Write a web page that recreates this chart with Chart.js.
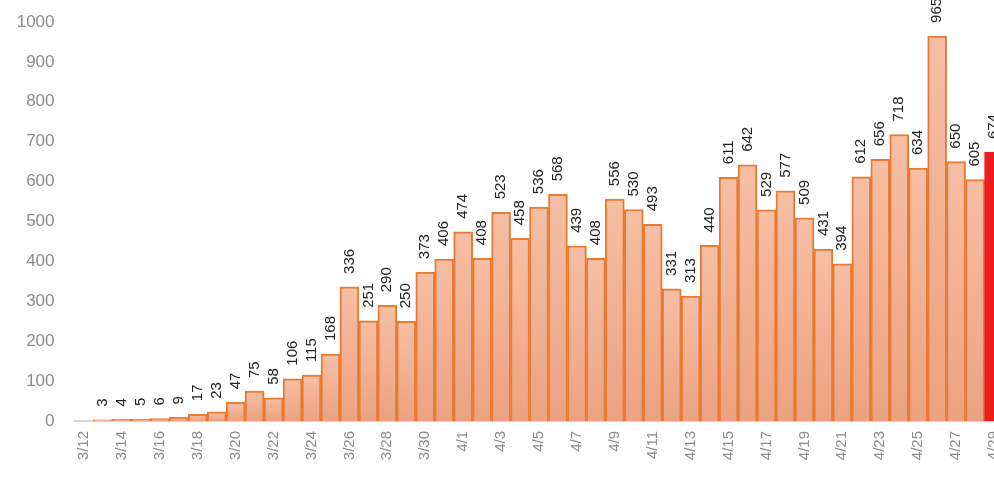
<!DOCTYPE html>
<html>
<head>
<meta charset="utf-8">
<script src="https://cdn.jsdelivr.net/npm/chart.js@4/dist/chart.umd.min.js"></script>
<style>
  html, body { margin: 0; padding: 0; background: #fff; overflow: hidden; }
  #wrap { position: absolute; left: 0; top: 0; width: 1010px; height: 477px; }
</style>
</head>
<body>
<div id="wrap"><canvas id="chart" width="1010" height="477"></canvas></div>
<script>
// daily new cases, 3/12 .. 4/29 (last day is highlighted red)
const dates = ['3/12','3/13','3/14','3/15','3/16','3/17','3/18','3/19','3/20','3/21',
  '3/22','3/23','3/24','3/25','3/26','3/27','3/28','3/29','3/30','3/31',
  '4/1','4/2','4/3','4/4','4/5','4/6','4/7','4/8','4/9','4/10',
  '4/11','4/12','4/13','4/14','4/15','4/16','4/17','4/18','4/19','4/20',
  '4/21','4/22','4/23','4/24','4/25','4/26','4/27','4/28','4/29'];
const cases = [null, 3, 4, 5, 6, 9, 17, 23, 47, 75,
  58, 106, 115, 168, 336, 251, 290, 250, 373, 406,
  474, 408, 523, 458, 536, 568, 439, 408, 556, 530,
  493, 331, 313, 440, 611, 642, 529, 577, 509, 431,
  394, 612, 656, 718, 634, 965, 650, 605, 674];
const yTicks = [0, 100, 200, 300, 400, 500, 600, 700, 800, 900, 1000];

const last = cases.length - 1;

// value labels, rotated, above each bar
const barLabels = {
  id: 'barLabels',
  afterDatasetsDraw(chart) {
    const ctx = chart.ctx;
    const meta = chart.getDatasetMeta(0);
    ctx.save();
    ctx.font = '15px "Liberation Sans", Arial, sans-serif';
    ctx.fillStyle = '#222';
    ctx.textAlign = 'left';
    ctx.textBaseline = 'middle';
    meta.data.forEach((bar, i) => {
      const v = cases[i];
      if (v === null) return;
      ctx.save();
      ctx.translate(bar.x, bar.y - 13);
      ctx.rotate(-Math.PI / 2);
      ctx.fillText(String(v), 0, 0);
      ctx.restore();
    });
    ctx.restore();
  }
};

new Chart(document.getElementById('chart'), {
  type: 'bar',
  data: {
    labels: dates,
    datasets: [{
      data: cases,
      backgroundColor: c => {
        if (c.dataIndex === last) return '#ee1c1c';
        const chart = c.chart;
        const area = chart.chartArea;
        if (!area || c.raw == null) return '#f0ad90';
        const top = chart.scales.y.getPixelForValue(c.raw);
        const g = chart.ctx.createLinearGradient(0, top, 0, area.bottom);
        g.addColorStop(0, '#f5bfa5');
        g.addColorStop(1, '#eca282');
        return g;
      },
      borderColor: c => c.dataIndex === last ? '#ee1c1c' : '#e97b30',
      borderWidth: 2,
      borderSkipped: 'bottom',
      barPercentage: 1,
      categoryPercentage: 1
    }]
  },
  options: {
    responsive: false,
    devicePixelRatio: 1,
    animation: false,
    layout: { padding: { left: 0, right: 6.5, top: 22, bottom: 0 } },
    plugins: {
      legend: { display: false },
      tooltip: { enabled: false }
    },
    scales: {
      x: {
        grid: { display: false, drawTicks: false },
        border: { display: true, color: '#d4d4d4', width: 2 },
        ticks: {
          autoSkip: false,
          minRotation: 90,
          maxRotation: 90,
          padding: 10,
          color: '#8c8c8c',
          font: { family: '"Liberation Sans", Arial, sans-serif', size: 15 },
          callback: (v, i) => i % 2 === 0 ? dates[i] : ''
        },
        afterFit: s => {
          s.height = 56;
          s.paddingLeft = 0;
          s.paddingRight = 0;
        }
      },
      y: {
        min: 0,
        max: 1000,
        grid: { display: false, drawTicks: false },
        border: { display: false },
        afterBuildTicks: s => { s.ticks = yTicks.map(v => ({ value: v })); },
        ticks: {
          padding: 20,
          color: '#8c8c8c',
          font: { family: '"Liberation Sans", Arial, sans-serif', size: 17 },
          callback: v => String(v)
        },
        afterFit: s => {
          s.width = 74.5;
          s.paddingTop = 0;
          s.paddingBottom = 0;
        }
      }
    }
  },
  plugins: [barLabels]
});
</script>
</body>
</html>
